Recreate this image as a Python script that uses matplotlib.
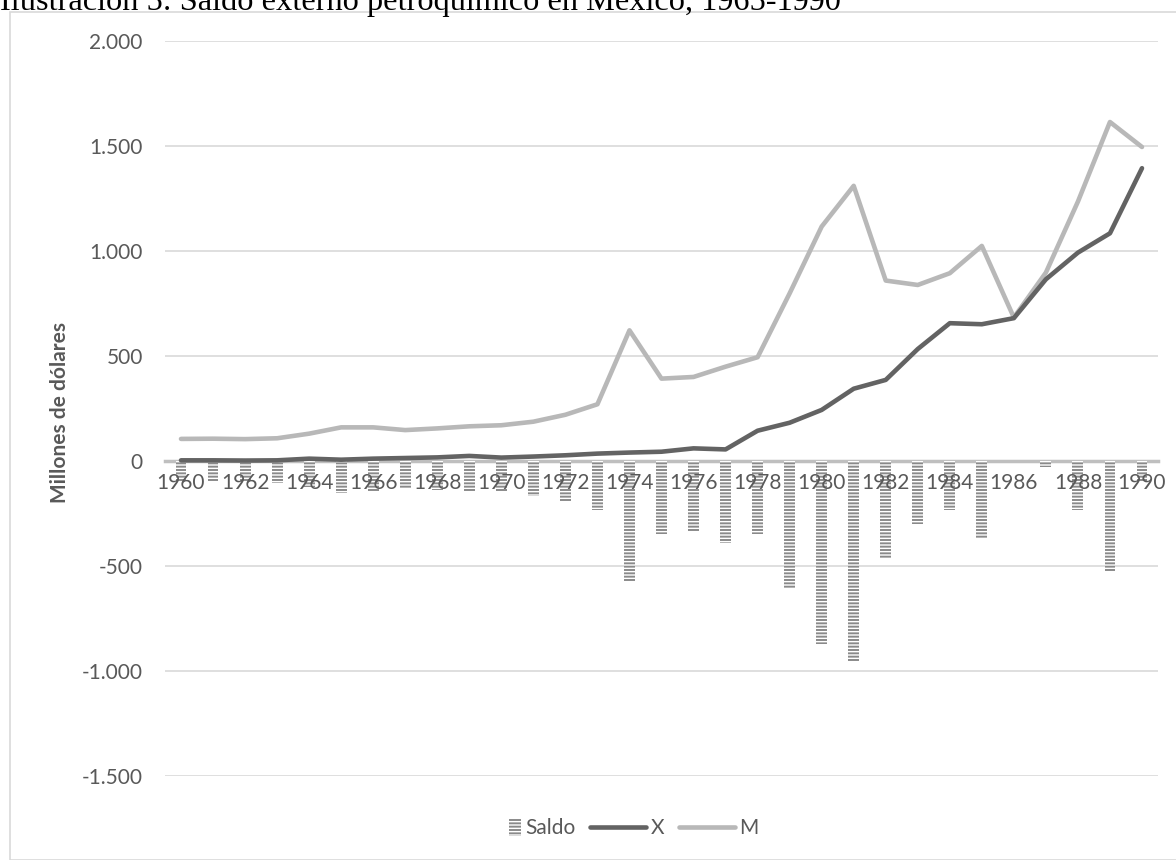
import matplotlib.pyplot as plt
import matplotlib.patches as mpatches
from matplotlib.container import BarContainer
from matplotlib.legend_handler import HandlerPatch, update_from_first_child
from matplotlib.ticker import FuncFormatter
import numpy as np

plt.rcParams['font.family'] = ['Lato', 'DejaVu Sans']
plt.rcParams['hatch.linewidth'] = 1.0

# Datos: comercio exterior petroquímico (millones de dólares)
anios = list(range(1960, 1991))
exportaciones = [3, 3, 2, 3, 11, 6, 11, 14, 17, 24, 16, 21, 27, 35, 40,
                 44, 60, 55, 144, 182, 243, 344, 386, 533, 656, 651, 680,
                 865, 992, 1084, 1394]
importaciones = [105, 106, 104, 108, 130, 160, 160, 147, 155, 165, 170, 187,
                 220, 270, 622, 392, 400, 449, 494, 798, 1116, 1310, 859, 838,
                 894, 1024, 683, 897, 1235, 1614, 1495]
saldo = [-98, -102, -98, -103, -122, -154, -146, -135, -138, -143, -146, -167,
         -194, -233, -575, -349, -338, -392, -349, -610, -871, -959, -468,
         -300, -235, -370, 0, -30, -235, -529, -100]

gris_texto = '#595959'
gris_rejilla = '#d9d9d9'


def cuadro_pequeno(legend, orig_handle, xdescent, ydescent, width, height, fontsize):
    # símbolo estrecho para la serie de barras, pegado al texto
    w = 0.6 * fontsize
    return mpatches.Rectangle((width - xdescent - w, -ydescent - 0.1 * height),
                              w, height * 1.2)


fig = plt.figure(figsize=(11.76, 8.6), dpi=100)
ax = fig.add_axes([0.1403, 0.0977, 0.8444, 0.8547])

x = np.arange(len(anios))

# Barras del saldo con rayado horizontal
barras = ax.bar(x, saldo, width=0.34, color='#8a8a8a', edgecolor='white',
                hatch='-----', linewidth=0, zorder=2, label='Saldo')
linea_x, = ax.plot(x, exportaciones, color='#636363', linewidth=3.3,
                   solid_capstyle='round', zorder=4, label='X')
linea_m, = ax.plot(x, importaciones, color='#b8b8b8', linewidth=3.3,
                   solid_capstyle='round', zorder=3, label='M')

ax.set_xlim(-0.5, len(anios) - 0.5)
ax.set_ylim(-1500, 2000)
ax.set_yticks(np.arange(-1500, 2001, 500))
ax.yaxis.set_major_formatter(FuncFormatter(lambda v, p: f'{v:,.0f}'.replace(',', '.')))
ax.grid(axis='y', color=gris_rejilla, linewidth=1.2, zorder=0)
ax.set_axisbelow(True)

# Eje de categorías cruzando en cero, etiquetas por encima de las barras
ax.set_xticks(x[::2])
ax.set_xticklabels([str(a) for a in anios[::2]])
ax.spines['bottom'].set_position(('data', 0))
ax.spines['bottom'].set_color('#bfbfbf')
ax.spines['bottom'].set_linewidth(2.5)
ax.spines['bottom'].set_zorder(1)
ax.xaxis.set_zorder(5)
for lado in ['top', 'right', 'left']:
    ax.spines[lado].set_visible(False)
ax.tick_params(axis='x', length=0, pad=9, labelsize=15, labelcolor=gris_texto)
ax.tick_params(axis='y', length=0, pad=16, labelsize=15, labelcolor=gris_texto)

fig.text(0.051, 0.52, 'Millones de dólares', rotation=90, ha='center',
         va='center', fontsize=15, fontweight='bold', color=gris_texto)

# Leyenda inferior
fig.legend([barras, linea_x, linea_m], ['Saldo', 'X', 'M'], loc='center',
           bbox_to_anchor=(0.52, 0.037), ncol=3, frameon=False, fontsize=15,
           labelcolor=gris_texto, handlelength=2.7, handletextpad=0.2,
           columnspacing=0.7,
           handler_map={BarContainer: HandlerPatch(patch_func=cuadro_pequeno,
                                                   update_func=update_from_first_child)})

# Marco del gráfico y título
fig.add_artist(mpatches.Rectangle((10 / 1176, 0), 1.0, 1 - 12 / 860,
                                  transform=fig.transFigure, fill=False,
                                  edgecolor=gris_rejilla, linewidth=1.2))
fig.text(0.0, 1 - 10 / 860, 'Ilustración 5: Saldo externo petroquímico en México, 1965-1990',
         fontsize=23.3, family='Liberation Serif', color='black',
         ha='left', va='baseline')

fig.savefig('out.png', dpi=100)
